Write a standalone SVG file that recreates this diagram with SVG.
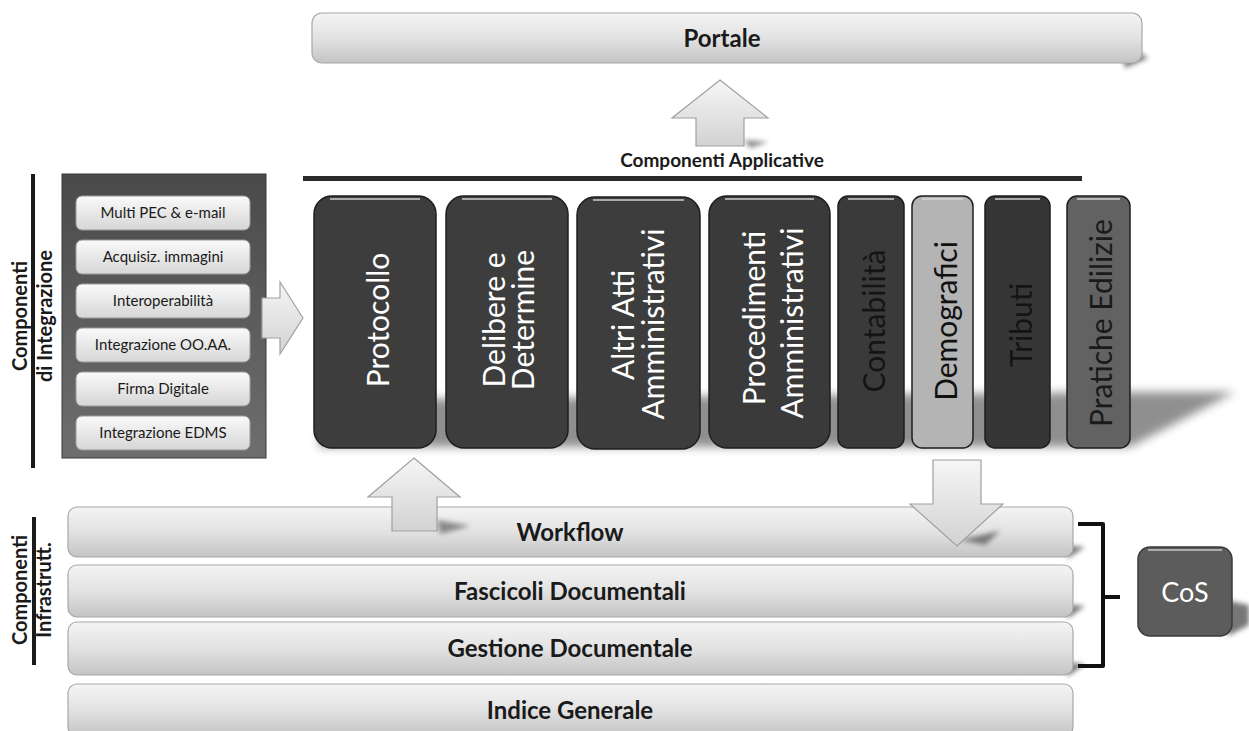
<svg xmlns="http://www.w3.org/2000/svg" width="1249" height="731" viewBox="0 0 1249 731">
<defs>
  <linearGradient id="barG" x1="0" y1="0" x2="0" y2="1">
    <stop offset="0" stop-color="#f4f4f4"/>
    <stop offset="0.5" stop-color="#e2e2e2"/>
    <stop offset="1" stop-color="#c4c4c4"/>
  </linearGradient>
  <linearGradient id="innerG" x1="0" y1="0" x2="0" y2="1">
    <stop offset="0" stop-color="#fafafa"/>
    <stop offset="1" stop-color="#d6d6d6"/>
  </linearGradient>
  <linearGradient id="arrowG" x1="0" y1="0" x2="0" y2="1">
    <stop offset="0" stop-color="#f6f6f6"/>
    <stop offset="1" stop-color="#d2d2d2"/>
  </linearGradient>
  <linearGradient id="leftBoxG" x1="0" y1="0" x2="0" y2="1">
    <stop offset="0" stop-color="#4a4a4a"/>
    <stop offset="1" stop-color="#6e6e6e"/>
  </linearGradient>
  <filter id="blur" x="-20%" y="-50%" width="140%" height="200%">
    <feGaussianBlur stdDeviation="5"/>
  </filter>
  <filter id="blur2" x="-20%" y="-50%" width="140%" height="200%">
    <feGaussianBlur stdDeviation="2.5"/>
  </filter>
  <style>
    .bar { fill: url(#barG); stroke: #a8a8a8; stroke-width: 1.2; }
    .barTxt { font-family: Lato, "Liberation Sans", sans-serif; font-weight: bold; font-size: 24px; fill: #1a1a1a; text-anchor: middle; }
    .inner { fill: url(#innerG); stroke: #9a9a9a; stroke-width: 1; }
    .innerTxt { font-family: Lato, "Liberation Sans", sans-serif; font-size: 15px; fill: #1a1a1a; text-anchor: middle; }
    .col { stroke: #1e1e1e; stroke-width: 1.5; }
    .colTxt { font-family: Lato, "Liberation Sans", sans-serif; font-size: 30px; text-anchor: middle; dominant-baseline: central; }
    .side { font-family: Lato, "Liberation Sans", sans-serif; font-weight: bold; font-size: 20px; fill: #1a1a1a; text-anchor: middle; }
    .arrow { fill: url(#arrowG); stroke: #a0a0a0; stroke-width: 1.2; }
    .gloss { fill: none; stroke: #d8d8d8; stroke-width: 2; opacity: 0.7; }
  </style>
</defs>
<rect width="1249" height="731" fill="#ffffff"/>

<!-- Portale -->
<g id="portale">
  <polygon points="1120,40 1148,58 1125,68" fill="#777" filter="url(#blur2)"/>
  <rect class="bar" x="312" y="13" width="830" height="50" rx="10"/>
  <text class="barTxt" x="722" y="47">Portale</text>
</g>

<!-- Componenti Applicative heading -->
<g id="applicative-header">
  <text x="722" y="167" font-family="Lato, 'Liberation Sans', sans-serif" font-weight="bold" font-size="19" fill="#1a1a1a" text-anchor="middle">Componenti Applicative</text>
  <rect x="303" y="176" width="779" height="5" fill="#2a2a2a"/>
</g>

<!-- column shadows -->
<polygon points="318,447 1130,447 1235,392 1130,392 330,400" fill="#6a6a6a" filter="url(#blur)" opacity="0.75"/>

<!-- Columns -->
<g id="protocollo">
  <rect class="col" x="314" y="196" width="122" height="252" rx="18" fill="#3d3d3d"/>
  <path class="gloss" d="M330,199 H420"/>
  <text class="colTxt" fill="#ffffff" font-size="31" transform="translate(377,320) rotate(-90)">Protocollo</text>
</g>
<g id="delibere">
  <rect class="col" x="446" y="196" width="122" height="252" rx="18" fill="#3d3d3d"/>
  <path class="gloss" d="M462,199 H552"/>
  <text class="colTxt" fill="#ffffff" transform="translate(493,320) rotate(-90)">Delibere e</text>
  <text class="colTxt" fill="#ffffff" transform="translate(522,320) rotate(-90)">Determine</text>
</g>
<g id="altri-atti">
  <rect class="col" x="577" y="197" width="123" height="252" rx="18" fill="#3d3d3d"/>
  <path class="gloss" d="M593,200 H684"/>
  <text class="colTxt" fill="#ffffff" transform="translate(622,325) rotate(-90)">Altri Atti</text>
  <text class="colTxt" fill="#ffffff" transform="translate(652,324) rotate(-90)">Amministrativi</text>
</g>
<g id="procedimenti">
  <rect class="col" x="709" y="196" width="121" height="252" rx="18" fill="#3a3a3a"/>
  <path class="gloss" d="M725,199 H814"/>
  <text class="colTxt" fill="#ffffff" transform="translate(753,318) rotate(-90)">Procedimenti</text>
  <text class="colTxt" fill="#ffffff" transform="translate(791,323) rotate(-90)">Amministrativi</text>
</g>
<g id="contabilita">
  <rect class="col" x="838" y="196" width="66" height="252" rx="10" fill="#3a3a3a"/>
  <path class="gloss" d="M848,199 H894"/>
  <text class="colTxt" fill="#141414" transform="translate(873,321) rotate(-90)">Contabilità</text>
</g>
<g id="demografici">
  <rect class="col" x="912" y="196" width="61" height="252" rx="10" fill="#b4b4b4" stroke="#8a8a8a"/>
  <path class="gloss" d="M922,199 H963" stroke="#eeeeee"/>
  <text class="colTxt" fill="#111111" transform="translate(945,321) rotate(-90)">Demografici</text>
</g>
<g id="tributi">
  <rect class="col" x="985" y="196" width="65" height="252" rx="10" fill="#363636"/>
  <path class="gloss" d="M995,199 H1040"/>
  <text class="colTxt" fill="#141414" transform="translate(1020,325) rotate(-90)">Tributi</text>
</g>
<g id="pratiche-edilizie">
  <rect class="col" x="1067" y="196" width="63" height="252" rx="10" fill="#626262"/>
  <path class="gloss" d="M1077,199 H1120"/>
  <text class="colTxt" fill="#1a1a1a" font-size="28" transform="translate(1100,323) rotate(-90)">Pratiche Edilizie</text>
</g>

<!-- Componenti di Integrazione -->
<g id="integrazione">
  <rect x="31" y="174" width="4" height="294" fill="#1a1a1a"/>
  <text class="side" transform="translate(27,316) rotate(-90)">Componenti</text>
  <text class="side" transform="translate(52,316) rotate(-90)">di Integrazione</text>
  <rect x="62" y="174" width="204" height="284" fill="url(#leftBoxG)" stroke="#3a3a3a" stroke-width="1"/>
  <g id="multi-pec">
    <rect class="inner" x="76" y="196" width="174" height="34" rx="6"/>
    <text class="innerTxt" x="163" y="218">Multi PEC &amp; e-mail</text>
  </g>
  <g id="acquisiz">
    <rect class="inner" x="76" y="240" width="174" height="34" rx="6"/>
    <text class="innerTxt" x="163" y="262">Acquisiz. immagini</text>
  </g>
  <g id="interoperabilita">
    <rect class="inner" x="76" y="284" width="174" height="34" rx="6"/>
    <text class="innerTxt" x="163" y="306">Interoperabilità</text>
  </g>
  <g id="integrazione-ooaa">
    <rect class="inner" x="76" y="328" width="174" height="34" rx="6"/>
    <text class="innerTxt" x="163" y="350">Integrazione OO.AA.</text>
  </g>
  <g id="firma-digitale">
    <rect class="inner" x="76" y="372" width="174" height="34" rx="6"/>
    <text class="innerTxt" x="163" y="394">Firma Digitale</text>
  </g>
  <g id="integrazione-edms">
    <rect class="inner" x="76" y="416" width="174" height="34" rx="6"/>
    <text class="innerTxt" x="163" y="438">Integrazione EDMS</text>
  </g>
</g>

<!-- Componenti Infrastrutt. -->
<g id="infrastrutt-label">
  <rect x="32" y="517" width="4" height="148" fill="#1a1a1a"/>
  <text class="side" transform="translate(27,590) rotate(-90)">Componenti</text>
  <text class="side" transform="translate(51,590) rotate(-90)">Infrastrutt.</text>
</g>

<!-- Infrastructure bars -->
<g id="indice-generale">
  <rect class="bar" x="68" y="684" width="1005" height="52" rx="9"/>
  <text class="barTxt" x="570" y="719">Indice Generale</text>
</g>
<g id="gestione-documentale">
  <polygon points="1060,662 1085,664 1068,676" fill="#777" filter="url(#blur2)"/>
  <rect class="bar" x="68" y="622" width="1005" height="53" rx="9"/>
  <text class="barTxt" x="570" y="657">Gestione Documentale</text>
</g>
<g id="fascicoli-documentali">
  <polygon points="1060,604 1085,606 1068,618" fill="#777" filter="url(#blur2)"/>
  <rect class="bar" x="68" y="565" width="1005" height="52" rx="9"/>
  <text class="barTxt" x="570" y="600">Fascicoli Documentali</text>
</g>
<g id="workflow">
  <polygon points="1060,545 1085,547 1068,558" fill="#777" filter="url(#blur2)"/>
  <rect class="bar" x="68" y="507" width="1005" height="50" rx="9"/>
  <text class="barTxt" x="570" y="541">Workflow</text>
</g>

<!-- CoS -->
<g id="cos">
  <polygon points="1225,600 1249,605 1249,625 1228,636" fill="#777" filter="url(#blur2)"/>
  <rect x="1138" y="547" width="94" height="89" rx="12" fill="#5c5c5c" stroke="#3a3a3a" stroke-width="1.5"/>
  <path d="M1148,550 H1222" stroke="#cfcfcf" stroke-width="2" opacity="0.7"/>
  <text x="1185" y="602" font-family="Lato, 'Liberation Sans', sans-serif" font-size="27" fill="#ffffff" text-anchor="middle">CoS</text>
</g>

<!-- Connectors -->
<g id="connectors">
  <!-- up arrow to Portale -->
  <polygon points="744,140 768,142 750,148" fill="#888" filter="url(#blur2)"/>
  <polygon class="arrow" points="720,80 768,118 744,118 744,146 696,146 696,118 672,118"/>
  <!-- right arrow from integrazione -->
  <polygon class="arrow" points="303,318 280,282 280,298 262,298 262,338 280,338 280,354"/>
  <!-- up arrow from workflow to components -->
  <polygon points="437,520 470,526 440,534" fill="#888" filter="url(#blur2)"/>
  <polygon class="arrow" points="414,458 460,497 437,497 437,531 392,531 392,497 368,497"/>
  <!-- down arrow from components to workflow -->
  <polygon points="960,540 1000,531 985,545" fill="#777" filter="url(#blur2)"/>
  <polygon class="arrow" points="933,460 981,460 981,504 1003,504 957,546 910,504 933,504"/>
  <!-- bracket -->
  <path d="M1078,524 H1103 V666 H1078 M1103,597 H1120" fill="none" stroke="#111111" stroke-width="4" stroke-linejoin="round"/>
</g>
</svg>
